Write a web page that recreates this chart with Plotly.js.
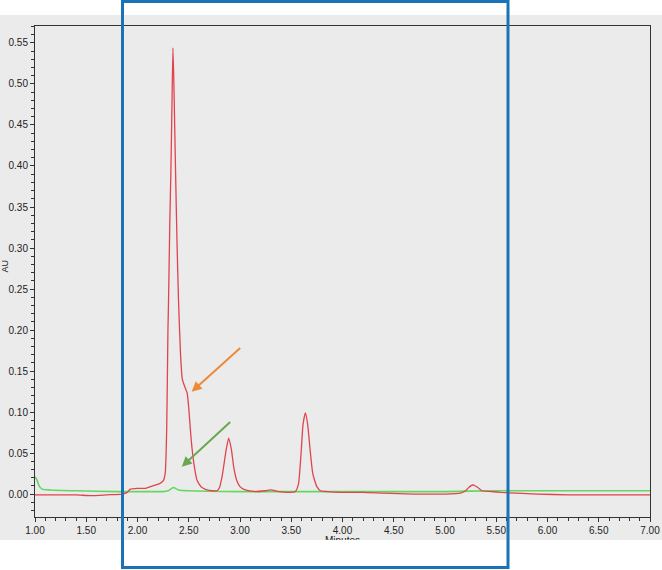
<!DOCTYPE html>
<html>
<head>
<meta charset="utf-8">
<script src="https://cdn.plot.ly/plotly-3.0.1.min.js"></script>
<style>
html,body{margin:0;padding:0;background:#ffffff;}
#chart{width:662px;height:570px;}
</style>
</head>
<body>
<div id="chart"></div>
<script>
// Red channel (minutes, AU)
const redTime = [1.00,1.20,1.40,1.55,1.70,1.85,1.90,1.93,2.00,2.08,2.15,2.22,2.25,2.27,2.285,2.297,2.303,2.315,2.326,2.338,2.346,2.355,2.371,2.385,2.400,2.42,2.437,2.449,2.47,2.485,2.50,2.515,2.531,2.555,2.580,2.62,2.678,2.73,2.776,2.80,2.83,2.86,2.889,2.915,2.94,2.97,3.00,3.05,3.15,3.25,3.30,3.38,3.47,3.54,3.57,3.596,3.615,3.638,3.66,3.687,3.71,3.75,3.785,3.85,4.00,4.20,4.40,4.70,5.00,5.15,5.20,5.25,5.28,5.32,5.36,5.45,5.55,5.70,5.90,6.20,6.60,7.00];
const redAU = [-0.001,-0.001,-0.001,-0.002,-0.001,0.000,0.002,0.006,0.007,0.007,0.010,0.013,0.016,0.025,0.08,0.20,0.237,0.33,0.395,0.49,0.544,0.50,0.395,0.31,0.237,0.17,0.14,0.135,0.128,0.123,0.105,0.08,0.057,0.033,0.017,0.009,0.005,0.004,0.004,0.008,0.025,0.05,0.068,0.055,0.032,0.016,0.009,0.005,0.003,0.004,0.005,0.003,0.002,0.003,0.012,0.05,0.085,0.099,0.085,0.05,0.025,0.009,0.004,0.003,0.002,0.002,0.001,0.000,0.000,0.001,0.004,0.010,0.011,0.008,0.004,0.003,0.002,0.001,0.000,-0.001,-0.001,-0.001];

// Green channel (minutes, AU)
const greenTime = [1.00,1.02,1.04,1.07,1.15,1.40,1.80,2.00,2.25,2.30,2.35,2.40,2.50,3.00,3.50,4.00,4.50,5.00,5.50,6.00,6.50,7.00];
const greenAU = [0.021,0.017,0.010,0.006,0.005,0.004,0.003,0.003,0.003,0.004,0.008,0.005,0.004,0.003,0.003,0.003,0.003,0.003,0.004,0.004,0.004,0.004];

// Axis ticks
const xTickVals = [1.0,1.5,2.0,2.5,3.0,3.5,4.0,4.5,5.0,5.5,6.0,6.5,7.0];
const xTickText = ["1.00","1.50","2.00","2.50","3.00","3.50","4.00","4.50","5.00","5.50","6.00","6.50","7.00"];
const yTickVals = [0.00,0.05,0.10,0.15,0.20,0.25,0.30,0.35,0.40,0.45,0.50,0.55];
const yTickText = ["0.00","0.05","0.10","0.15","0.20","0.25","0.30","0.35","0.40","0.45","0.50","0.55"];

const W = 662, H = 570, L = 35, R = 12, T = 26, B = 53;
const pw = W - L - R, ph = H - T - B;
const px = v => (v - L) / pw;          // page px -> paper x
const py = v => (H - B - v) / ph;      // page px -> paper y

const traces = [
  {x: greenTime, y: greenAU, type: 'scatter', mode: 'lines',
   line: {color: '#62d862', width: 1.6, shape: 'spline', smoothing: 0.5}, hoverinfo: 'skip'},
  {x: redTime, y: redAU, type: 'scatter', mode: 'lines',
   line: {color: '#e2434d', width: 1.3, shape: 'spline', smoothing: 0.5}, hoverinfo: 'skip'}
];

const tickFont = {family: 'Liberation Sans, Arial, sans-serif', size: 10, color: '#222222'};

const layout = {
  width: W, height: H,
  margin: {l: L, r: R, t: T, b: B, pad: 0},
  paper_bgcolor: '#ffffff',
  plot_bgcolor: '#ebebeb',
  showlegend: false,
  xaxis: {
    range: [1, 7], tickmode: 'array', tickvals: xTickVals, ticktext: xTickText,
    ticks: 'outside', ticklen: 4, tickwidth: 1, tickcolor: '#333333',
    minor: {dtick: 0.1, tick0: 1, ticks: 'outside', ticklen: 3, tickcolor: '#333333', showgrid: false},
    showgrid: false, zeroline: false, showline: true, linecolor: '#333333', linewidth: 1,
    mirror: true, tickfont: tickFont, fixedrange: true
  },
  yaxis: {
    range: [-0.028, 0.5707], tickmode: 'array', tickvals: yTickVals, ticktext: yTickText,
    ticks: 'outside', ticklen: 4, tickwidth: 1, tickcolor: '#333333',
    minor: {dtick: 0.01, tick0: 0, ticks: 'outside', ticklen: 3, tickcolor: '#333333', showgrid: false},
    showgrid: false, zeroline: false, showline: true, linecolor: '#333333', linewidth: 1,
    mirror: true, tickfont: tickFont, fixedrange: true
  },
  shapes: [
    {type: 'rect', xref: 'paper', yref: 'paper', layer: 'below',
     x0: px(0), x1: px(662), y0: py(540), y1: py(15),
     fillcolor: '#ebebeb', line: {width: 0}},
    {type: 'rect', xref: 'paper', yref: 'paper', layer: 'above',
     x0: px(122.5), x1: px(508), y0: py(567.5), y1: py(1.5),
     fillcolor: 'rgba(0,0,0,0)', line: {color: '#1a73b6', width: 3}}
  ],
  annotations: [
    {xref: 'paper', yref: 'paper', x: px(4.5), y: py(266), xanchor: 'center', yanchor: 'middle',
     text: 'AU', showarrow: false, textangle: -90, borderpad: 0,
     font: {family: 'Liberation Sans, Arial, sans-serif', size: 9, color: '#222222'}},
    {xref: 'paper', yref: 'paper', x: px(342), y: py(533), xanchor: 'center', yanchor: 'top',
     text: 'Minutes', showarrow: false,
     font: {family: 'Liberation Sans, Arial, sans-serif', size: 10, color: '#222222'}},
    {xref: 'paper', yref: 'paper', x: px(342), y: py(540), xanchor: 'center', yanchor: 'top',
     text: ' ', showarrow: false, width: 70, height: 14, bgcolor: '#ffffff', borderpad: 0, borderwidth: 0},
    {xref: 'paper', yref: 'paper', x: px(191.7), y: py(391.7), text: '', showarrow: true,
     ax: 50, ay: -45, arrowhead: 2, arrowsize: 1, arrowwidth: 2, arrowcolor: '#ee8a36', standoff: 0},
    {xref: 'paper', yref: 'paper', x: px(181.7), y: py(466.7), text: '', showarrow: true,
     ax: 50, ay: -46, arrowhead: 2, arrowsize: 1, arrowwidth: 2, arrowcolor: '#6aa84f', standoff: 0}
  ]
};

Plotly.newPlot('chart', traces, layout, {staticPlot: true, displayModeBar: false});
</script>
</body>
</html>
